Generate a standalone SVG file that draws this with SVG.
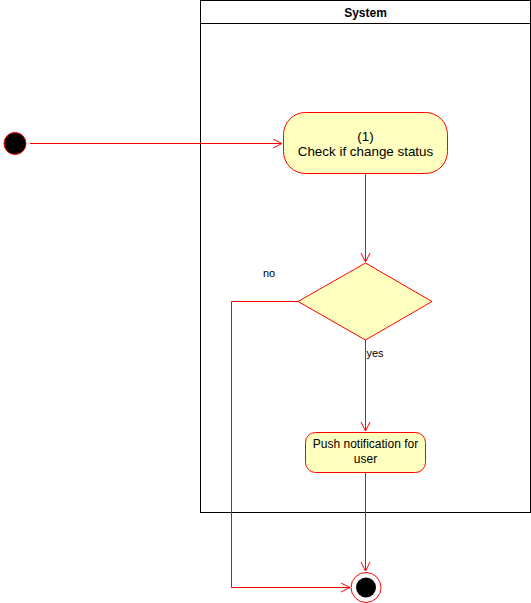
<svg xmlns="http://www.w3.org/2000/svg" width="531" height="603" viewBox="0 0 531 603">
<defs>
<style>
.e{fill:none;stroke:#ff0000;stroke-width:1}
.n{fill:#ffffc0;stroke:#ff0000;stroke-width:1}
.t{font-family:"Liberation Sans",Arial,sans-serif;font-size:12px;fill:#000000;text-anchor:middle}
.b{font-size:13.4px}
.l{font-family:"Liberation Sans",Arial,sans-serif;font-size:11px;fill:#000000;text-anchor:middle}
</style>
<marker id="a" markerWidth="12" markerHeight="12" refX="10" refY="5" orient="auto" markerUnits="userSpaceOnUse">
<path d="M1,0.5 L10,5 L1,9.5" fill="none" stroke="#ff0000" stroke-width="1"/>
</marker>
</defs>
<rect width="531" height="603" fill="#fff"/>
<g id="lane">
<rect x="200.5" y="0.5" width="330" height="512" fill="none" stroke="#000"/>
<line x1="200.5" y1="23.5" x2="530.5" y2="23.5" stroke="#000"/>
<text x="365.5" y="17" class="t" font-weight="bold">System</text>
</g>
<g id="edges">
<path class="e" d="M30,143.5 H282" marker-end="url(#a)"/>
<path class="e" d="M365.5,173 V262" marker-end="url(#a)"/>
<path class="e" d="M298,301.5 H231.5 V587.5 H350" marker-end="url(#a)"/>
<path class="e" d="M365.5,340 V431" marker-end="url(#a)"/>
<path class="e" d="M365.5,472 V571" marker-end="url(#a)"/>
<text x="269" y="277" class="l">no</text>
<text x="375" y="357" class="l">yes</text>
</g>
<g id="start">
<circle cx="15" cy="143.5" r="11" fill="#000" stroke="#ff0000"/>
</g>
<g id="check">
<rect x="283.5" y="112.5" width="164" height="61" rx="22" class="n"/>
<text x="365.5" y="141" class="t b">(1)</text>
<text x="365.5" y="156" class="t b">Check if change status</text>
</g>
<g id="decision">
<polygon points="365.5,263 432,301.5 365.5,340 298,301.5" class="n"/>
</g>
<g id="push">
<rect x="305.5" y="432.5" width="120" height="40" rx="10" class="n"/>
<text x="365.5" y="448" class="t">Push notification for</text>
<text x="365.5" y="463" class="t">user</text>
</g>
<g id="end">
<circle cx="366" cy="587.5" r="15" fill="none" stroke="#ff0000"/>
<circle cx="366" cy="587.5" r="10" fill="#000"/>
</g>
</svg>
